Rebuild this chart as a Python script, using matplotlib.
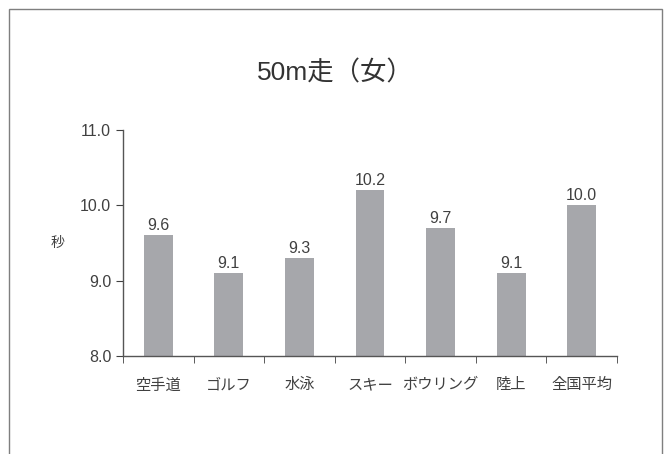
import matplotlib
matplotlib.use("Agg")
import matplotlib.pyplot as plt
from matplotlib.patches import Rectangle

plt.rcParams['font.family'] = ['Liberation Sans', 'Noto Sans CJK JP', 'DejaVu Sans']

categories = ["空手道", "ゴルフ", "水泳", "スキー", "ボウリング", "陸上", "全国平均"]
values = [9.6, 9.1, 9.3, 10.2, 9.7, 9.1, 10.0]
yticks = [8.0, 9.0, 10.0, 11.0]

txt = "#404040"
fig = plt.figure(figsize=(6.7, 4.54), dpi=100)
ax = fig.add_axes([123/670, 1-356/454, (617-123)/670, (356-130)/454])

x = range(len(categories))
bars = ax.bar(x, values, width=0.41, color="#A6A7AB", zorder=2)
for xi, v in zip(x, values):
    ax.text(xi, v + 0.03, f"{v:.1f}", ha="center", va="bottom", fontsize=11.5, color=txt)

ax.set_xlim(-0.5, len(categories) - 0.5)
ax.set_ylim(8.0, 11.0)
ax.set_yticks(yticks)
ax.set_yticklabels([f"{t:.1f}" for t in yticks])
ax.set_xticks(x)
ax.set_xticklabels(categories)
ax.set_xticks([i - 0.5 for i in range(len(categories) + 1)], minor=True)
ax.tick_params(axis="x", which="major", length=0, pad=16, labelsize=11, labelcolor=txt)
ax.tick_params(axis="x", which="minor", length=5, direction="out", color="#404040")
ax.tick_params(axis="y", length=5, direction="out", labelsize=11.5, labelcolor=txt, color="#404040")
for s in ["top", "right"]:
    ax.spines[s].set_visible(False)
for s in ["left", "bottom"]:
    ax.spines[s].set_color("#555555")
    ax.spines[s].set_linewidth(1.0)

ax.set_ylabel("秒", rotation=0, fontsize=10, color=txt, labelpad=16, va="center")
fig.text(0.5, 1-73/454, "50m走（女）", ha="center", va="center", fontsize=19, color="#333333")

fig.patches.append(Rectangle((9/670, -0.05), (662-9)/670, 1.05 - 9/454,
                             transform=fig.transFigure, fill=False,
                             edgecolor="#7f7f7f", linewidth=1.0))

fig.savefig("out.png", dpi=100)
